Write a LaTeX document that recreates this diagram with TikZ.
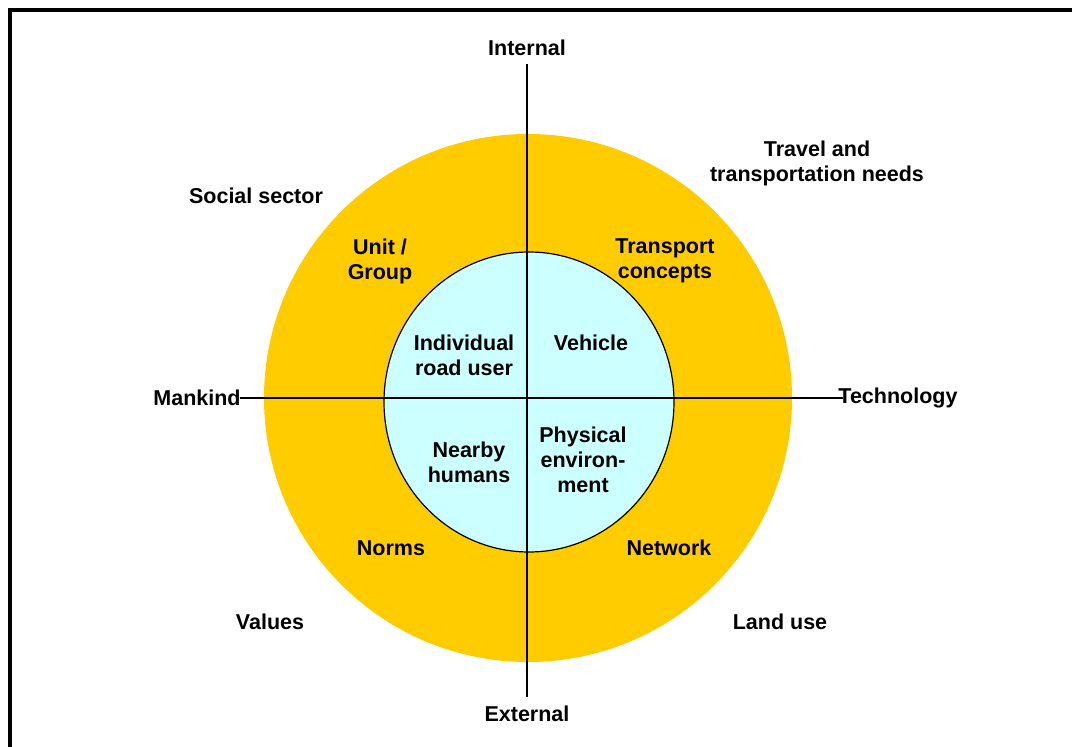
\documentclass[tikz,border=0pt]{standalone}
\usepackage{fontspec}
\setmainfont{Liberation Sans}
\definecolor{ringyellow}{HTML}{FFCC00}
\definecolor{corecyan}{HTML}{CCFFFF}
\tikzset{
  lbl/.style={font=\fontsize{21.5}{25}\selectfont\bfseries, align=center, inner sep=0pt},
  axis/.style={black, line width=1.3pt}
}
\begin{document}
\begin{tikzpicture}[x=1pt,y=1pt]
\useasboundingbox (0,0) rectangle (1072,747);
\fill[white] (0,0) rectangle (1072,747);
% frame
\draw[line width=4pt] (10,0) -- (10,737) -- (1072,737);

% rings
\fill[ringyellow] (528,349) circle (264);
\draw[fill=corecyan, line width=1.2pt] (529,345) ellipse (145 and 150);

% axis labels
\node[lbl] (internal) at (527,699) {Internal};
\node[lbl] (external) at (527,33) {External};
\node[lbl] (mankind) at (197,349) {Mankind};
\node[lbl] (technology) at (898,349) {Technology};

\draw[axis, shorten <=8pt, shorten >=9pt] (internal.south) -- (external.north);
\draw[axis, shorten <=-1pt, shorten >=-5pt] (mankind.east) -- (technology.west);

% outer labels
\node[lbl] (social) at (256,551) {Social sector};
\node[lbl] (travel) at (817,584) {Travel and\\transportation needs};
\node[lbl] (values) at (270,125) {Values};
\node[lbl] (landuse) at (780,125) {Land use};

% ring labels
\node[lbl] (unit) at (380,486) {Unit /\\Group};
\node[lbl] (transport) at (665,486) {Transport\\concepts};
\node[lbl] (norms) at (391,199) {Norms};
\node[lbl] (network) at (669,199) {Network};

% core labels
\node[lbl] (user) at (464,392) {Individual\\road user};
\node[lbl] (vehicle) at (591,404) {Vehicle};
\node[lbl] (nearby) at (469,285) {Nearby\\humans};
\node[lbl] (physical) at (583,287) {Physical\\environ-\\ment};
\end{tikzpicture}
\end{document}
